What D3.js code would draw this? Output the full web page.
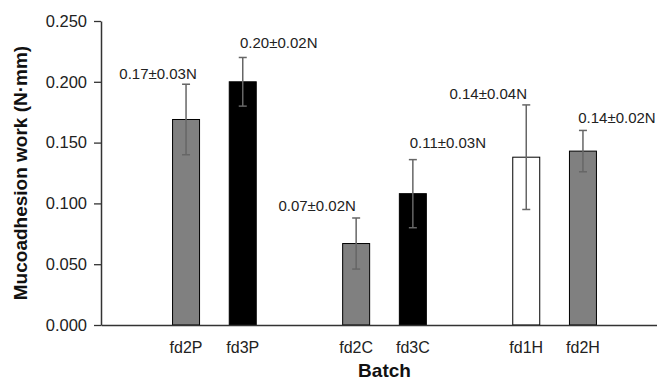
<!DOCTYPE html>
<html>
<head>
<meta charset="utf-8">
<script src="https://cdn.jsdelivr.net/npm/d3@7"></script>
<style>
  body { margin: 0; background: #fff; }
  svg { display: block; font-family: Arial, "Liberation Sans", sans-serif; }
</style>
</head>
<body>
<svg width="657" height="380"></svg>
<script>
// chart data
const batches = ['fd2P', 'fd3P', 'fd2C', 'fd3C', 'fd1H', 'fd2H'];
const work    = [0.169, 0.200, 0.067, 0.108, 0.138, 0.143];
const errors  = [0.029, 0.020, 0.021, 0.028, 0.043, 0.017];
const labels  = ['0.17±0.03N', '0.20±0.02N', '0.07±0.02N', '0.11±0.03N', '0.14±0.04N', '0.14±0.02N'];
const yTicks  = [0, 0.05, 0.1, 0.15, 0.2, 0.25];

// x slots, empty ones keep the gaps between the groups
const slots = ['_a', 'fd2P', 'fd3P', '_b', 'fd2C', 'fd3C', '_c', 'fd1H', 'fd2H', '_d'];

// look of each bar and where its label sits (px from bar centre / error bar top)
const fills = ['#808080', '#000000', '#808080', '#000000', '#ffffff', '#808080'];
const labelNudge = [[-28, 5], [36, 9], [-39, 7], [35, 12], [-38, 6], [34, 7]];

const mLeft = 101, mTop = 21, mBottom = 325;

const svg = d3.select('svg');

const x = d3.scaleBand().domain(slots).range([mLeft, 668]).padding(0);
const y = d3.scaleLinear().domain([0, 0.25]).range([mBottom, mTop]);

const barW = x.bandwidth() * 0.476;
const cx = d => x(d) + x.bandwidth() / 2;

const data = batches.map((b, i) => ({
  batch: b, value: work[i], err: errors[i], label: labels[i],
  fill: fills[i], nudge: labelNudge[i]
}));

// bars
svg.append('g')
  .selectAll('rect')
  .data(data)
  .enter().append('rect')
    .attr('x', d => cx(d.batch) - barW / 2)
    .attr('y', d => y(d.value))
    .attr('width', barW)
    .attr('height', d => mBottom - y(d.value))
    .attr('fill', d => d.fill)
    .attr('stroke', '#000')
    .attr('stroke-width', 1);

// error bars
const errG = svg.append('g')
  .attr('stroke', '#666')
  .attr('stroke-width', 1.5)
  .selectAll('g')
  .data(data)
  .enter().append('g');

errG.append('line')
  .attr('x1', d => cx(d.batch)).attr('x2', d => cx(d.batch))
  .attr('y1', d => y(d.value + d.err)).attr('y2', d => y(d.value - d.err));
errG.append('line')
  .attr('x1', d => cx(d.batch) - 4).attr('x2', d => cx(d.batch) + 4)
  .attr('y1', d => y(d.value + d.err)).attr('y2', d => y(d.value + d.err));
errG.append('line')
  .attr('x1', d => cx(d.batch) - 4).attr('x2', d => cx(d.batch) + 4)
  .attr('y1', d => y(d.value - d.err)).attr('y2', d => y(d.value - d.err));

// value labels
svg.append('g')
  .selectAll('text')
  .data(data)
  .enter().append('text')
    .attr('x', d => cx(d.batch) + d.nudge[0])
    .attr('y', d => y(d.value + d.err) - d.nudge[1])
    .attr('text-anchor', 'middle')
    .attr('font-size', 15)
    .attr('fill', '#222')
    .text(d => d.label);

// y axis
const yAxis = svg.append('g')
  .attr('transform', `translate(${mLeft},0)`)
  .call(d3.axisLeft(y).tickValues(yTicks).tickFormat(d3.format('.3f')).tickSize(7).tickSizeOuter(0).tickPadding(7));
yAxis.selectAll('text').attr('font-size', 16.5).attr('fill', '#222').attr('font-family', 'Arial, "Liberation Sans", sans-serif');
yAxis.selectAll('line').attr('stroke', '#333').attr('stroke-width', 1.3);
yAxis.select('.domain').attr('stroke', '#333').attr('stroke-width', 1.5);

// x axis
const xAxis = svg.append('g')
  .attr('transform', `translate(0,${mBottom})`)
  .call(d3.axisBottom(x).tickValues(batches).tickSize(0).tickSizeOuter(0).tickPadding(17));
xAxis.selectAll('text').attr('font-size', 16).attr('fill', '#222').attr('font-family', 'Arial, "Liberation Sans", sans-serif');
xAxis.select('.domain').attr('stroke', '#333').attr('stroke-width', 1.5);

// axis titles
svg.append('text')
  .attr('x', (mLeft + 668) / 2)
  .attr('y', 377)
  .attr('text-anchor', 'middle')
  .attr('font-size', 19)
  .attr('font-weight', 'bold')
  .attr('fill', '#111')
  .text('Batch');

svg.append('text')
  .attr('transform', `translate(27,${(mTop + mBottom) / 2}) rotate(-90)`)
  .attr('text-anchor', 'middle')
  .attr('font-size', 19)
  .attr('font-weight', 'bold')
  .attr('fill', '#111')
  .text('Mucoadhesion work (N·mm)');
</script>
</body>
</html>
